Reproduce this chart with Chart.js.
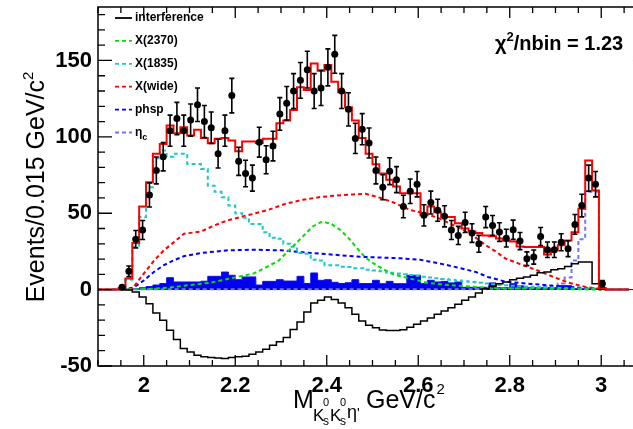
<!DOCTYPE html>
<html>
<head>
<meta charset="utf-8">
<script src="https://cdn.jsdelivr.net/npm/chart.js@4.4.1/dist/chart.umd.min.js"></script>
<style>
  html, body { margin: 0; padding: 0; background: #fff; }
  canvas { display: block; }
</style>
</head>
<body>
<canvas id="myChart" width="633" height="429"></canvas>
<script>
// 15 MeV bins, first filled bin starts at 1.945 GeV
const binLow = 1.945;
const binWidth = 0.015;
// the frame runs to 3.1 GeV, the visible part stops a little earlier
const xMin = 1.9;
const xFrameMax = 3.1;
const xVisibleMax = 3.0607;

const dataEvents = [1.5, 12, 33, 39, 62, 78, 87, 104, 112, 104,
  111, 121, 110, 106, 89, 104, 127, 84, 76, 73,
  96.5, 85, 94, 115, 122, 130, 137, 144, 130, 132,
  145.5, 154, 130, 118, 99, 105, 96, 78, 67, 77.5,
  72, 54.4, 64.4, 69, 48.6, 57, 52, 48, 39, 35.5,
  44, 37, 30, 47.5, 42, 37.7, 33.7, 39.2, 31.8, 20.2,
  21.3, 34.8, 26.1, 26.1, 31, 26.8, 42.7, 55, 73, 69,
  3.9];
const dataErrors = [1.2, 3.5, 5.7, 6.2, 7.9, 8.8, 9.3, 10.2, 10.6, 10.2,
  10.5, 11, 10.5, 10.3, 9.4, 10.2, 11.3, 9.2, 8.7, 8.5,
  9.8, 9.2, 9.7, 10.7, 11, 11.4, 11.7, 12, 11.4, 11.5,
  12.1, 12.4, 11.4, 10.9, 9.9, 10.2, 9.8, 8.8, 8.2, 8.8,
  8.5, 7.4, 8, 8.3, 7, 7.5, 7.2, 6.9, 6.2, 6,
  6.6, 6.1, 5.5, 6.9, 6.5, 6.1, 5.8, 6.3, 5.6, 4.5,
  4.6, 5.9, 5.1, 5.1, 5.6, 5.2, 6.5, 7.4, 8.5, 8.3,
  2];
const fitTotal = [1, 7.2, 30.5, 54.4, 70.3, 88.9, 95.4, 107.4, 102.4, 106.3,
  100.9, 104.6, 99.3, 95.8, 98.7, 99.3, 97.6, 90.6, 97, 97,
  96, 98.7, 98.7, 108.9, 110.7, 117.6, 132.4, 130.7, 148, 143.3,
  147, 136, 129.2, 119.3, 110.7, 99.3, 89, 82, 76, 72,
  67.5, 63, 63, 63, 48.6, 54.4, 50.7, 47.5, 47.5, 43.5,
  40, 38, 37, 35.5, 35, 33.5, 32, 31.5, 28.3, 27.9,
  27.9, 27.9, 23, 25.7, 29, 32.2, 37.6, 52.9, 84.5, 64.9,
  1];
const interference = [0, -0.3, -1.5, -4.8, -9.2, -15.3, -20, -26.6, -32.7, -38.6,
  -40.8, -42.9, -44, -44.5, -44.7, -45.1, -44.5, -44, -43.6, -42.3,
  -40.8, -39, -36.4, -34.2, -31.4, -26.1, -21.2, -14.6, -8.8, -7,
  -4.8, -6.5, -8.8, -11.8, -16.1, -20.5, -23.3, -25, -26.4, -26.8,
  -26.8, -26.2, -24.6, -22.6, -20.5, -18.5, -16.2, -14, -11.8, -9.6,
  -7, -4.8, -2.2, 0.5, 2.2, 3.9, 5, 6.5, 7.5, 8.3,
  9.4, 11, 11.5, 13, 13.7, 15.2, 17, 18, 18, 3.9,
  0.3];
const bkgFill = [0, 0.2, 0.6, 1.2, 2, 3, 4, 7.8, 5, 5,
  5, 5, 5.5, 8.7, 8.7, 11.5, 9.4, 6.5, 8.3, 8.3,
  3, 5.4, 5.4, 6.5, 5.6, 5.6, 8.7, 4, 10.9, 6.1,
  6.5, 4.8, 4, 4.5, 6.5, 4, 4, 6.1, 3.9, 5.4,
  3.9, 3.9, 9.4, 9.4, 3.9, 6.1, 5, 5.4, 4.4, 5,
  1.5, 1.5, 1.5, 1.5, 4.4, 1.3, 1.3, 3.9, 2.5, 1.3,
  1.3, 1.3, 1.3, 1.3, 2.6, 2.6, 0.6, 0.6, 0.6, 0.6,
  0.3];
const x1835 = [0.5, 6.5, 28, 47.5, 67, 86, 91, 87, 89, 89,
  82.3, 82.3, 79, 68, 64, 60.5, 55, 50, 47, 43,
  43, 37.6, 34, 33.3, 30, 28, 24, 23.5, 19.5, 19,
  16, 15.9, 15, 14.8, 14, 14, 13, 12.5, 12, 11,
  10.5, 10, 9.5, 9, 8.5, 8, 7.5, 7, 6.5, 6,
  5.5, 5, 4.5, 4, 3.5, 3, 2.8, 2.5, 2.2, 2,
  1.8, 1.6, 1.4, 1.2, 1, 0.9, 0.8, 0.7, 0.6, 0.5,
  0];
const etac = [0.2, 0.2, 0.2, 0.2, 0.2, 0.2, 0.2, 0.2, 0.2, 0.2,
  0.2, 0.2, 0.2, 0.2, 0.2, 0.2, 0.2, 0.2, 0.2, 0.2,
  0.2, 0.2, 0.2, 0.2, 0.2, 0.2, 0.2, 0.2, 0.2, 0.2,
  0.2, 0.2, 0.2, 0.2, 0.2, 0.2, 0.2, 0.2, 0.2, 0.2,
  0.2, 0.2, 0.2, 0.2, 0.2, 0.2, 0.2, 0.2, 0.2, 0.2,
  0.3, 0.3, 0.4, 0.4, 0.5, 0.5, 0.6, 0.7, 0.8, 0.9,
  1, 1.3, 1.8, 2.5, 4, 8, 19, 33, 64, 64,
  0.5];

// smooth components, read at selected masses
const x2370Mass = [1.95, 2.015, 2.06, 2.10, 2.145, 2.20, 2.24, 2.27, 2.295, 2.315,
  2.335, 2.355, 2.37, 2.39, 2.41, 2.43, 2.45, 2.465, 2.48, 2.495,
  2.52, 2.545, 2.585, 2.62, 2.665, 2.715, 2.76, 2.825, 2.91, 3.0];
const x2370Val = [0, 0.5, 1.5, 3, 4.5, 8, 10.5, 15, 19, 25,
  31, 37, 41.5, 44.5, 43, 39, 33, 27.5, 22.5, 18.5,
  14, 10, 7, 4.5, 3, 2, 1, 0.7, 0.4, 0];
const wideMass = [1.952, 1.975, 2.0, 2.023, 2.044, 2.066, 2.088, 2.125, 2.154, 2.183,
  2.212, 2.241, 2.273, 2.31, 2.348, 2.383, 2.42, 2.457, 2.485, 2.518,
  2.546, 2.568, 2.584, 2.612, 2.643, 2.664, 2.693, 2.721, 2.748, 2.769,
  2.791, 2.82, 2.857, 2.894, 2.929, 2.966, 2.995, 3.01];
const wideVal = [0, 0.6, 10.5, 19.2, 25.7, 31.1, 36.6, 38, 42, 45.3,
  47.5, 49.7, 52.3, 56.2, 58.8, 60.5, 61.6, 62.3, 62.7, 60,
  57, 54, 52, 50, 47, 44, 40, 35, 29, 25,
  20.3, 17, 13, 8.5, 4.5, 1.8, 0.6, 0];
const phspMass = [1.952, 1.978, 2.0, 2.022, 2.044, 2.066, 2.087, 2.125, 2.184, 2.24,
  2.3, 2.343, 2.387, 2.43, 2.474, 2.518, 2.562, 2.605, 2.649, 2.693,
  2.726, 2.752, 2.791, 2.824, 2.857, 2.929, 2.988, 3.003];
const phspVal = [0, 1.3, 6, 11.5, 16, 19.2, 21.8, 24, 25.7, 26.1,
  25.7, 24.6, 23.5, 22.5, 21.5, 21, 20.5, 19.5, 17, 14,
  11.5, 8.3, 5.2, 4.3, 3.5, 1.7, 0.6, 0];

const xTickVals = [2, 2.2, 2.4, 2.6, 2.8, 3];
const yTickVals = [-50, 0, 50, 100, 150];

const green = '#00e000';
const cyan = '#20c8c8';
const red = '#ff0000';
const blue = '#0000ff';
const lightBlue = '#7272ff';
const fontFamily = '"Liberation Sans", Arial, Helvetica, sans-serif';

const binCentres = dataEvents.map((v, i) => binLow + (i + 0.5) * binWidth);

// outline of a histogram: left edge of every bin, closed down to zero
function histPoints(vals) {
  const pts = [{ x: xMin, y: 0 }];
  vals.forEach((v, i) => pts.push({ x: binLow + i * binWidth, y: v }));
  pts.push({ x: binLow + vals.length * binWidth, y: 0 });
  pts.push({ x: xFrameMax, y: 0 });
  return pts;
}
function curvePoints(xs, ys) {
  return xs.map((x, i) => ({ x: x, y: ys[i] }));
}

const errorBars = {
  id: 'errorBars',
  afterDatasetsDraw(chart) {
    const { ctx, scales: { x, y } } = chart;
    ctx.save();
    ctx.strokeStyle = '#000';
    ctx.lineWidth = 1.6;
    dataEvents.forEach((v, i) => {
      const px = x.getPixelForValue(binCentres[i]);
      const top = y.getPixelForValue(v + dataErrors[i]);
      const bot = y.getPixelForValue(v - dataErrors[i]);
      ctx.beginPath();
      ctx.moveTo(px, top); ctx.lineTo(px, bot);
      ctx.moveTo(px - 2.5, top); ctx.lineTo(px + 2.5, top);
      ctx.moveTo(px - 2.5, bot); ctx.lineTo(px + 2.5, bot);
      ctx.stroke();
    });
    ctx.restore();
  }
};

const legendItems = [
  { text: 'interference', color: '#000', dash: [] },
  { text: 'X(2370)', color: green, dash: [4, 3] },
  { text: 'X(1835)', color: cyan, dash: [4, 3] },
  { text: 'X(wide)', color: red, dash: [4, 3] },
  { text: 'phsp', color: blue, dash: [4, 3] },
  { text: 'η', sub: 'c', color: lightBlue, dash: [4, 3] }
];

const frameAndText = {
  id: 'frameAndText',
  afterDraw(chart) {
    const { ctx, chartArea: a, scales: { x, y } } = chart;
    const right = x.getPixelForValue(xFrameMax);
    ctx.save();
    // zero line runs on under the frame edge
    ctx.strokeStyle = '#111';
    ctx.lineWidth = 1;
    ctx.beginPath();
    ctx.moveTo(a.right, y.getPixelForValue(0));
    ctx.lineTo(right, y.getPixelForValue(0));
    ctx.stroke();
    // frame and inward ticks on all four sides
    ctx.strokeStyle = '#000';
    ctx.lineWidth = 1.5;
    ctx.strokeRect(a.left, a.top, right - a.left, a.bottom - a.top);
    ctx.lineWidth = 1.3;
    ctx.beginPath();
    for (let k = 0; k <= 24; k++) {
      const v = xMin + 0.05 * k;
      const major = Math.abs(v / 0.2 - Math.round(v / 0.2)) < 1e-6;
      const len = major ? 11 : 6;
      const px = x.getPixelForValue(v);
      ctx.moveTo(px, a.bottom); ctx.lineTo(px, a.bottom - len);
      ctx.moveTo(px, a.top); ctx.lineTo(px, a.top + len);
    }
    for (let v = -50; v <= 180; v += 10) {
      const len = v % 50 === 0 ? 14 : 7;
      const py = y.getPixelForValue(v);
      ctx.moveTo(a.left, py); ctx.lineTo(a.left + len, py);
      ctx.moveTo(right, py); ctx.lineTo(right - len, py);
    }
    ctx.stroke();

    // legend
    ctx.textBaseline = 'middle';
    legendItems.forEach((item, i) => {
      const cy = 18 + i * 22.9;
      ctx.strokeStyle = item.color;
      ctx.lineWidth = 1.8;
      ctx.setLineDash(item.dash);
      ctx.beginPath();
      ctx.moveTo(115, cy); ctx.lineTo(132, cy);
      ctx.stroke();
      ctx.setLineDash([]);
      ctx.fillStyle = '#000';
      ctx.font = 'bold 12px ' + fontFamily;
      ctx.fillText(item.text, 135, cy);
      if (item.sub) {
        const w = ctx.measureText(item.text).width;
        ctx.font = 'bold 9px ' + fontFamily;
        ctx.fillText(item.sub, 135 + w, cy + 5);
      }
    });

    // fit quality
    ctx.textBaseline = 'alphabetic';
    ctx.fillStyle = '#000';
    let cx = 495;
    ctx.font = 'bold 20px ' + fontFamily;
    ctx.fillText('χ', cx, 50);
    cx += ctx.measureText('χ').width;
    ctx.font = 'bold 13px ' + fontFamily;
    ctx.fillText('2', cx, 41);
    cx += ctx.measureText('2').width;
    ctx.font = 'bold 20px ' + fontFamily;
    ctx.fillText('/nbin = 1.23', cx, 50);

    // y axis title
    ctx.save();
    ctx.translate(44, 187);
    ctx.rotate(-Math.PI / 2);
    ctx.font = '25px ' + fontFamily;
    const yMain = 'Events/0.015 GeV/c';
    const w1 = ctx.measureText(yMain).width;
    ctx.font = '15px ' + fontFamily;
    const w2 = ctx.measureText('2').width;
    const start = -(w1 + w2) / 2;
    ctx.font = '25px ' + fontFamily;
    ctx.fillText(yMain, start, 0);
    ctx.font = '15px ' + fontFamily;
    ctx.fillText('2', start + w1, -11);
    ctx.restore();

    // x axis title
    ctx.font = '25px ' + fontFamily;
    ctx.fillText('M', 293, 408);
    ctx.font = '17px ' + fontFamily;
    ctx.fillText('K', 313, 421);
    ctx.fillText('K', 330, 421);
    ctx.font = '11px ' + fontFamily;
    ctx.fillText('0', 323, 406);
    ctx.fillText('0', 340, 406);
    ctx.font = '12px ' + fontFamily;
    ctx.fillText('s', 323, 425);
    ctx.fillText('s', 340, 425);
    ctx.font = '18px ' + fontFamily;
    ctx.fillText('η', 347, 418);
    ctx.font = '14px ' + fontFamily;
    ctx.fillText("'", 357, 418);
    ctx.font = '25px ' + fontFamily;
    ctx.fillText('GeV/c', 366, 408);
    const wg = ctx.measureText('GeV/c').width;
    ctx.font = '15px ' + fontFamily;
    ctx.fillText('2', 366 + wg + 1, 394);
    ctx.restore();
  }
};

const dashed = [4, 3];
const ctx = document.getElementById('myChart');

new Chart(ctx, {
  type: 'line',
  data: {
    datasets: [
      {
        label: 'data',
        data: curvePoints(binCentres, dataEvents),
        showLine: false,
        pointRadius: 3.5,
        pointBackgroundColor: '#000',
        pointBorderColor: '#000',
        pointBorderWidth: 0
      },
      {
        label: 'fit',
        data: histPoints(fitTotal),
        stepped: true,
        borderColor: red,
        borderWidth: 2,
        pointRadius: 0
      },
      {
        label: 'interference',
        data: histPoints(interference),
        stepped: true,
        borderColor: '#000',
        borderWidth: 1.5,
        pointRadius: 0
      },
      {
        label: 'X(2370)',
        data: curvePoints(x2370Mass, x2370Val),
        borderColor: green,
        borderDash: dashed,
        borderWidth: 2,
        pointRadius: 0
      },
      {
        label: 'X(1835)',
        data: histPoints(x1835),
        stepped: true,
        borderColor: cyan,
        borderDash: dashed,
        borderWidth: 2,
        pointRadius: 0
      },
      {
        label: 'X(wide)',
        data: curvePoints(wideMass, wideVal),
        borderColor: red,
        borderDash: dashed,
        borderWidth: 2,
        pointRadius: 0
      },
      {
        label: 'phsp',
        data: curvePoints(phspMass, phspVal),
        borderColor: blue,
        borderDash: dashed,
        borderWidth: 2,
        pointRadius: 0
      },
      {
        label: 'etac',
        data: histPoints(etac),
        stepped: true,
        borderColor: lightBlue,
        borderDash: dashed,
        borderWidth: 2,
        pointRadius: 0
      },
      {
        label: 'background',
        data: histPoints(bkgFill),
        stepped: true,
        borderColor: '#1010f0',
        backgroundColor: '#0000f0',
        borderWidth: 1,
        fill: 'origin',
        pointRadius: 0
      }
    ]
  },
  options: {
    responsive: false,
    animation: false,
    devicePixelRatio: 1,
    layout: { padding: { top: 7, right: 0, left: 0, bottom: 0 } },
    plugins: { legend: { display: false }, tooltip: { enabled: false } },
    scales: {
      x: {
        type: 'linear',
        min: xMin,
        max: xVisibleMax,
        afterFit(s) {
          s.height = 63;
          s.paddingLeft = 0;
          s.paddingRight = 0;
        },
        afterBuildTicks(s) { s.ticks = xTickVals.map(v => ({ value: v })); },
        grid: { display: false, drawTicks: false },
        border: { display: false },
        ticks: {
          color: '#000',
          padding: 7,
          maxRotation: 0,
          font: { family: fontFamily, size: 22, weight: 'bold' },
          callback: v => String(v)
        }
      },
      y: {
        min: -50,
        max: 185,
        afterFit(s) {
          s.width = 98;
          s.paddingTop = 0;
          s.paddingBottom = 0;
        },
        afterBuildTicks(s) { s.ticks = yTickVals.map(v => ({ value: v })); },
        grid: {
          drawTicks: false,
          color: c => (c.tick && c.tick.value === 0 ? '#111' : 'rgba(0,0,0,0)'),
          lineWidth: 1
        },
        border: { display: false },
        ticks: {
          color: '#000',
          padding: 6,
          font: { family: fontFamily, size: 22, weight: 'bold' },
          callback: v => String(v)
        }
      }
    }
  },
  plugins: [errorBars, frameAndText]
});
</script>
</body>
</html>
